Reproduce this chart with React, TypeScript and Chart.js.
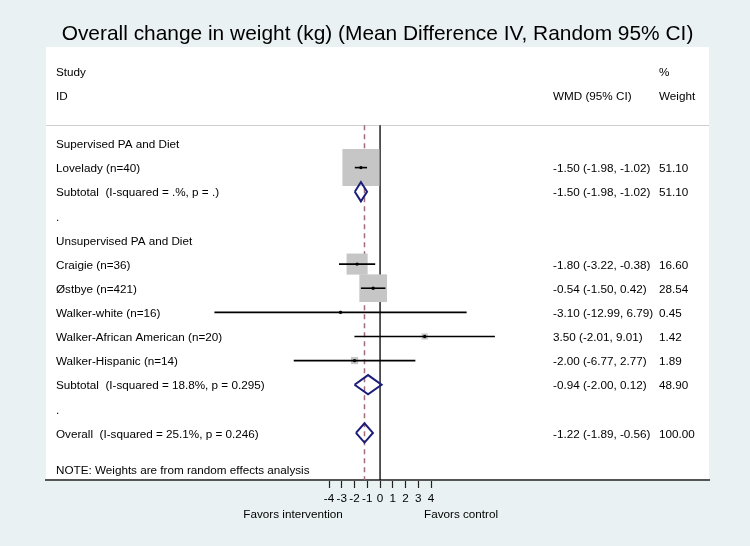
import React, { useEffect, useRef } from "react";
import { Chart, registerables } from "chart.js";

Chart.register(...registerables);

// ---------------- data ----------------
const chartTitle = "Overall change in weight (kg) (Mean Difference IV, Random 95% CI)";

// Table rows, top to bottom (row index = position in these arrays)
const rowLabels = [
  "Supervised PA and Diet",
  "Lovelady (n=40)",
  "Subtotal  (I-squared = .%, p = .)",
  ".",
  "Unsupervised PA and Diet",
  "Craigie (n=36)",
  "Østbye (n=421)",
  "Walker-white (n=16)",
  "Walker-African American (n=20)",
  "Walker-Hispanic (n=14)",
  "Subtotal  (I-squared = 18.8%, p = 0.295)",
  ".",
  "Overall  (I-squared = 25.1%, p = 0.246)",
];
const rowKinds = ["group", "study", "pooled", "blank", "group", "study", "study", "study", "study", "study", "pooled", "blank", "pooled"];
const rowEstimates = [null, -1.5, -1.5, null, null, -1.8, -0.54, -3.1, 3.5, -2.0, -0.94, null, -1.22];
const rowLower = [null, -1.98, -1.98, null, null, -3.22, -1.5, -12.99, -2.01, -6.77, -2.0, null, -1.89];
const rowUpper = [null, -1.02, -1.02, null, null, -0.38, 0.42, 6.79, 9.01, 2.77, 0.12, null, -0.56];
const rowWeights = [null, 51.1, 51.1, null, null, 16.6, 28.54, 0.45, 1.42, 1.89, 48.9, null, 100.0];

const headerLeft = ["Study", "ID"];
const headerEffect = "WMD (95% CI)";
const headerWeight = ["%", "Weight"];
const footNote = "NOTE: Weights are from random effects analysis";
const xTickValues = [-4, -3, -2, -1, 0, 1, 2, 3, 4];
const favorsLeft = "Favors intervention";
const favorsRight = "Favors control";

// ---------------- layout / style constants ----------------
const FONT = "'Liberation Sans', Arial, Helvetica, sans-serif";
const TEXT_SIZE = 11.7;
const TEXT_DY = 1.5;
const X_MIN = -26.2;
const X_MAX = 25.8;
const Y_MIN = -4;
const Y_MAX = 13.95;
const HEADER_ROWS = [-3, -2];
const HEADER_LINE_ROW = -0.76;
const NOTE_ROW = 13.5;
const DIAMOND_HALF = 0.4;
const BOX_SCALE = 3.66; // point radius per sqrt(weight)
const OUTER_BG = "#e9f1f3";

const fmt = (v: number) => v.toFixed(2);

export default function App() {
  const ref = useRef<HTMLCanvasElement | null>(null);

  useEffect(() => {
    const canvas = ref.current;
    if (!canvas) return;

    const studyIdx = rowKinds.map((k, i) => (k === "study" ? i : -1)).filter((i) => i >= 0);
    const pooledIdx = rowKinds.map((k, i) => (k === "pooled" ? i : -1)).filter((i) => i >= 0);
    const overallIdx = pooledIdx[pooledIdx.length - 1];
    const overallEst = rowEstimates[overallIdx] as number;

    const datasets: any[] = [];

    // reference lines
    datasets.push({
      label: "zero",
      data: [
        { x: 0, y: HEADER_LINE_ROW },
        { x: 0, y: Y_MAX },
      ],
      showLine: true,
      borderColor: "#000",
      borderWidth: 1.3,
      pointRadius: 0,
      order: 20,
    });
    datasets.push({
      label: "overall",
      data: [
        { x: overallEst, y: HEADER_LINE_ROW },
        { x: overallEst, y: Y_MAX },
      ],
      showLine: true,
      borderColor: "#a06c7a",
      borderWidth: 1.5,
      borderDash: [5, 4],
      pointRadius: 0,
      order: 19,
    });

    // weight boxes
    datasets.push({
      label: "boxes",
      data: studyIdx.map((i) => ({ x: rowEstimates[i], y: i })),
      pointStyle: "rect",
      pointRadius: studyIdx.map((i) => BOX_SCALE * Math.sqrt(rowWeights[i] as number)),
      pointBackgroundColor: "#c6c6c6",
      pointBorderWidth: 0,
      showLine: false,
      order: 10,
    });

    // CI lines
    studyIdx.forEach((i) => {
      datasets.push({
        label: "ci" + i,
        data: [
          { x: rowLower[i], y: i },
          { x: rowUpper[i], y: i },
        ],
        showLine: true,
        borderColor: "#000",
        borderWidth: 1.6,
        pointRadius: 0,
        order: 5,
      });
    });

    // point estimates
    datasets.push({
      label: "estimates",
      data: studyIdx.map((i) => ({ x: rowEstimates[i], y: i })),
      pointStyle: "circle",
      pointRadius: 1.7,
      pointBackgroundColor: "#000",
      pointBorderWidth: 0,
      showLine: false,
      order: 1,
    });

    // diamonds
    pooledIdx.forEach((i) => {
      const e = rowEstimates[i] as number;
      const lo = rowLower[i] as number;
      const hi = rowUpper[i] as number;
      datasets.push({
        label: "diamond" + i,
        data: [
          { x: lo, y: i },
          { x: e, y: i - DIAMOND_HALF },
          { x: hi, y: i },
          { x: e, y: i + DIAMOND_HALF },
          { x: lo, y: i },
        ],
        showLine: true,
        borderColor: "#1c1c7a",
        borderWidth: 2,
        borderJoinStyle: "miter",
        pointRadius: 0,
        fill: false,
        order: 2,
      });
    });

    const decor = {
      id: "forestDecor",
      beforeDraw(chart: any) {
        const { ctx, chartArea, scales } = chart;
        ctx.save();
        ctx.fillStyle = OUTER_BG;
        ctx.fillRect(0, 0, chart.width, chart.height);
        ctx.fillStyle = "#ffffff";
        ctx.fillRect(chartArea.left, chartArea.top, chartArea.right - chartArea.left, chartArea.bottom - chartArea.top);
        const hy = Math.round(scales.y.getPixelForValue(HEADER_LINE_ROW)) + 0.5;
        ctx.strokeStyle = "#cfcfcf";
        ctx.lineWidth = 1;
        ctx.beginPath();
        ctx.moveTo(chartArea.left, hy);
        ctx.lineTo(chartArea.right, hy);
        ctx.stroke();
        ctx.restore();
      },
      afterDatasetsDraw(chart: any) {
        const { ctx, chartArea, scales } = chart;
        const y = scales.y;
        const x = scales.x;
        const py = (v: number) => y.getPixelForValue(v) + TEXT_DY;
        const leftX = chartArea.left + 10;
        const effX = chartArea.left + 507;
        const wX = chartArea.left + 613;
        ctx.save();
        ctx.font = `${TEXT_SIZE}px ${FONT}`;
        ctx.fillStyle = "#000";
        ctx.textBaseline = "middle";
        ctx.textAlign = "left";
        // header
        ctx.fillText(headerLeft[0], leftX, py(HEADER_ROWS[0]));
        ctx.fillText(headerLeft[1], leftX, py(HEADER_ROWS[1]));
        ctx.fillText(headerEffect, effX, py(HEADER_ROWS[1]));
        ctx.fillText(headerWeight[0], wX, py(HEADER_ROWS[0]));
        ctx.fillText(headerWeight[1], wX, py(HEADER_ROWS[1]));
        // rows
        rowLabels.forEach((lab, i) => {
          const ry = py(i);
          ctx.fillText(lab, leftX, ry);
          const e = rowEstimates[i];
          if (e !== null) {
            const ci = `${fmt(e)} (${fmt(rowLower[i] as number)}, ${fmt(rowUpper[i] as number)})`;
            ctx.fillText(ci, effX, ry);
            const ciEnd = effX + ctx.measureText(ci).width;
            ctx.fillText(fmt(rowWeights[i] as number), Math.max(wX, ciEnd + 1), ry);
          }
        });
        ctx.fillText(footNote, leftX, py(NOTE_ROW));
        // favors labels
        ctx.textAlign = "center";
        const zx = x.getPixelForValue(0);
        ctx.fillText(favorsLeft, zx - 87, 514.5);
        ctx.fillText(favorsRight, zx + 81, 514.5);
        ctx.restore();
      },
    };

    const chart = new Chart(canvas, {
      type: "scatter",
      data: { datasets },
      plugins: [decor],
      options: {
        animation: false,
        responsive: false,
        events: [],
        layout: { padding: { left: 46, right: 41, top: 0, bottom: 0 } },
        plugins: {
          legend: { display: false },
          tooltip: { enabled: false },
          title: {
            display: true,
            text: chartTitle,
            color: "#000",
            font: { family: FONT, size: 20.9, weight: "normal" as any },
            padding: { top: 21.5, bottom: 0.4 },
          },
        },
        scales: {
          x: {
            type: "linear",
            min: X_MIN,
            max: X_MAX,
            afterBuildTicks: (scale: any) => {
              scale.ticks = xTickValues.map((v) => ({ value: v }));
            },
            afterFit: (scale: any) => {
              scale.height = 66;
            },
            ticks: {
              autoSkip: false,
              maxRotation: 0,
              minRotation: 0,
              padding: 3.5,
              color: "#000",
              font: { family: FONT, size: TEXT_SIZE },
              callback: (v: any) => String(v),
            },
            grid: {
              display: true,
              drawOnChartArea: false,
              drawTicks: true,
              tickLength: 8,
              tickWidth: 1.2,
              tickColor: "#222",
            },
            border: { display: true, color: "#555", width: 2 },
          },
          y: {
            type: "linear",
            reverse: true,
            min: Y_MIN,
            max: Y_MAX,
            display: false,
          },
        },
      },
    });

    return () => chart.destroy();
  }, []);

  return (
    <div style={{ position: "absolute", left: 0, top: 0, width: 750, height: 546 }}>
      <canvas ref={ref} width={750} height={546} style={{ display: "block", width: 750, height: 546 }} />
    </div>
  );
}
